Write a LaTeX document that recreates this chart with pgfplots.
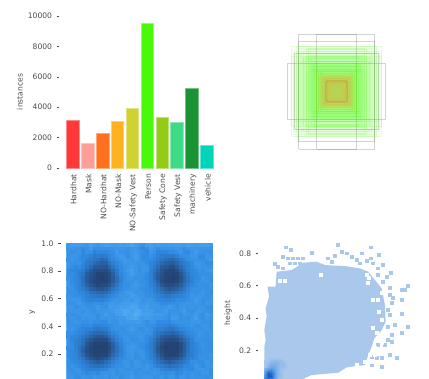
\documentclass[border=0pt]{standalone}
\usepackage{pgfplots}
\pgfplotsset{compat=1.18}
\usepackage{fontspec}
\setmainfont{DejaVu Sans}
\definecolor{c0}{HTML}{FF3838}\definecolor{c1}{HTML}{FF9D97}\definecolor{c2}{HTML}{FF701F}
\definecolor{c3}{HTML}{FFB21D}\definecolor{c4}{HTML}{CFD231}\definecolor{c5}{HTML}{48F90A}
\definecolor{c6}{HTML}{92CC17}\definecolor{c7}{HTML}{3DDB86}\definecolor{c8}{HTML}{1A9334}
\definecolor{c9}{HTML}{00D4BB}\definecolor{body}{HTML}{A9C8EC}\definecolor{txt}{gray}{0.3}
\newcommand\rr[3]{\addplot[draw=#1,line width=1.5pt,draw opacity=0.15,fill=#1,fill opacity=0.02,forget plot] coordinates {(-#2,-#3)(#2,-#3)(#2,#3)(-#2,#3)(-#2,-#3)};}
\newcommand\gr[2]{\addplot[draw=gray,line width=0.6pt,draw opacity=0.35,forget plot] coordinates {(-#1,-#2)(#1,-#2)(#1,#2)(-#1,#2)(-#1,-#2)};}
\newcommand\bb[3]{\addplot[ybar,bar width=0.85,bar shift=0pt,fill=#1,draw=#1!60!white,line width=0.4pt,forget plot] coordinates {(#2,#3)};}
\pgfplotsset{panel/.style={scale only axis,clip=false,enlargelimits=false,
  axis lines=left,axis line style={draw=none,-},
  /pgf/number format/assume math mode=true,
  tick align=outside,major tick length=2.6pt,
  ytick style={draw=txt,line width=0.5pt,xshift=-6pt},
  xtick style={draw=none},
  yticklabel style={font=\fontsize{7.6}{9}\selectfont,text=txt,xshift=-7pt},
  ylabel style={font=\fontsize{7.6}{9}\selectfont,text=txt},
  xtick=\empty}}
\begin{document}
\begin{tikzpicture}[x=1pt,y=1pt]
\path[use as bounding box] (0,0) rectangle (429,379);
\clip (0,0) rectangle (429,379);
\begin{axis}[panel,at={(65.2pt,211pt)},anchor=south west,width=149pt,height=152pt,
  xmin=-0.5,xmax=9.5,ymin=0,ymax=10000,ytick={0,2000,4000,6000,8000,10000},
  scaled y ticks=false,yticklabel style={/pgf/number format/1000 sep={}},
  ylabel={instances},ylabel style={at={(axis description cs:0,0.5)},anchor=south,yshift=39pt},
  xtick={0,...,9},xticklabels={Hardhat,Mask,NO-Hardhat,NO-Mask,NO-Safety Vest,Person,Safety Cone,Safety Vest,machinery,vehicle},
  xticklabel style={rotate=90,anchor=east,font=\fontsize{7.6}{9}\selectfont,text=txt,yshift=-1pt}]
\bb{c0}{0}{3130}\bb{c1}{1}{1650}\bb{c2}{2}{2300}\bb{c3}{3}{3080}\bb{c4}{4}{3950}
\bb{c5}{5}{9550}\bb{c6}{6}{3350}\bb{c7}{7}{3030}\bb{c8}{8}{5230}\bb{c9}{9}{1530}
\end{axis}
\begin{axis}[scale only axis,hide axis,clip=false,at={(276.7pt,227.3pt)},anchor=south west,width=120pt,height=120pt,
  xmin=-60,xmax=60,ymin=-60,ymax=60]
\gr{38}{57.5}\gr{20}{57.5}\gr{49}{28}\gr{38}{50}\gr{42}{38}
\rr{c5}{45}{45}\rr{c5}{43}{40}\rr{c5}{40}{45}\rr{c5}{38}{43}\rr{c5}{35}{42}\rr{c5}{45}{35}
\rr{c5}{42}{30}\rr{c5}{40}{38}\rr{c5}{36}{38}\rr{c5}{33}{40}\rr{c5}{30}{42}\rr{c5}{28}{43}
\rr{c5}{38}{28}\rr{c5}{33}{33}\rr{c5}{30}{35}\rr{c5}{28}{36}\rr{c5}{26}{33}\rr{c5}{25}{35}
\rr{c5}{22}{34}\rr{c5}{24}{30}\rr{c5}{30}{25}\rr{c5}{27}{27}\rr{c5}{25}{25}\rr{c5}{23}{28}
\rr{c5}{22}{25}\rr{c5}{20}{30}\rr{c5}{19}{26}\rr{c5}{26}{20}\rr{c5}{23}{22}\rr{c5}{21}{21}
\rr{c5}{20}{20}\rr{c5}{18}{23}\rr{c5}{18}{18}\rr{c5}{16}{20}\rr{c5}{15}{22}\rr{c5}{17}{16}
\rr{c5}{32}{30}\rr{c5}{24}{26}\rr{c5}{20}{24}\rr{c5}{34}{34}\rr{c5}{28}{22}
\rr{c4}{20}{18}\rr{c4}{18}{20}\rr{c4}{17}{17}\rr{c4}{16}{18}\rr{c3}{15}{15}\rr{c3}{14}{16}\rr{c3}{16}{14}
\rr{c3}{15}{13}\rr{c3}{13}{15}\rr{c2}{14}{14}\rr{c2}{13}{12}\rr{c2}{12}{13}\rr{c2}{11}{11}\rr{c0}{11}{10}\rr{c2}{10}{11}
\rr{c2}{11}{9}\rr{c2}{9}{11}\rr{c2}{10}{10}\rr{c3}{8}{8}\rr{c3}{7}{8}\rr{c3}{8}{7}\rr{c3}{6}{6}
\end{axis}
\begin{axis}[panel,at={(66.7pt,-2.7pt)},anchor=south west,width=146pt,height=138.4pt,
  xmin=0,xmax=1,ymin=0,ymax=1,ytick={0.2,0.4,0.6,0.8,1.0},
  yticklabel style={/pgf/number format/fixed,/pgf/number format/fixed zerofill,/pgf/number format/precision=1},
  ylabel={y},ylabel style={at={(axis description cs:0,0.5)},anchor=south,yshift=28pt},
  colormap={hm}{rgb255(0)=(95,180,246); rgb255(3)=(48,140,228); rgb255(6)=(42,105,175); rgb255(9)=(35,65,112)},
  point meta min=0,point meta max=9]
\addplot[surf,shader=flat,mesh/cols=40,point meta=explicit,forget plot] table[row sep=\\,
  x expr={mod(\coordindex,40)/39},y expr={1-0.0265*floor(\coordindex/40)},meta=v] {v\\
1\\2\\1\\2\\0\\2\\1\\2\\2\\1\\2\\0\\1\\2\\1\\2\\1\\1\\0\\2\\1\\2\\1\\2\\1\\2\\2\\1\\1\\2\\0\\1\\2\\1\\2\\1\\1\\2\\1\\2\\
2\\3\\1\\3\\2\\4\\2\\1\\3\\3\\1\\3\\2\\3\\2\\1\\3\\1\\3\\2\\4\\3\\1\\2\\3\\1\\3\\2\\3\\2\\3\\3\\2\\1\\3\\2\\3\\1\\3\\2\\
3\\1\\4\\2\\3\\3\\1\\4\\3\\2\\4\\2\\3\\1\\3\\3\\2\\4\\1\\3\\2\\4\\3\\1\\3\\4\\2\\3\\2\\3\\1\\3\\4\\2\\3\\1\\3\\2\\3\\1\\
2\\3\\3\\1\\3\\4\\2\\4\\5\\3\\4\\3\\4\\3\\1\\3\\2\\3\\1\\3\\2\\3\\3\\2\\4\\3\\5\\4\\3\\4\\3\\2\\3\\4\\1\\3\\3\\2\\3\\3\\
3\\2\\1\\4\\3\\3\\4\\5\\4\\5\\6\\4\\3\\2\\3\\1\\3\\3\\2\\1\\3\\4\\2\\3\\3\\5\\4\\5\\6\\5\\4\\3\\3\\1\\3\\2\\4\\3\\1\\2\\
2\\3\\3\\2\\3\\4\\5\\4\\6\\6\\7\\5\\4\\4\\2\\3\\1\\2\\3\\2\\3\\2\\4\\3\\5\\4\\6\\7\\6\\7\\5\\5\\3\\4\\2\\3\\2\\3\\3\\2\\
3\\1\\3\\3\\2\\5\\4\\6\\7\\6\\8\\6\\5\\3\\4\\2\\3\\3\\1\\3\\2\\3\\3\\4\\4\\6\\7\\6\\8\\7\\6\\4\\5\\3\\3\\1\\3\\2\\4\\3\\
2\\3\\4\\3\\4\\4\\6\\7\\8\\7\\8\\8\\6\\5\\3\\3\\2\\1\\3\\2\\3\\1\\3\\5\\5\\7\\8\\8\\9\\8\\7\\6\\4\\4\\3\\3\\2\\3\\1\\2\\
3\\4\\2\\5\\3\\6\\7\\8\\8\\9\\8\\9\\7\\6\\4\\2\\3\\2\\1\\3\\3\\2\\4\\4\\6\\7\\8\\9\\8\\9\\8\\6\\5\\3\\4\\2\\3\\3\\2\\3\\
2\\3\\3\\4\\5\\6\\8\\7\\9\\9\\9\\8\\8\\6\\4\\3\\3\\1\\3\\2\\2\\3\\3\\5\\7\\7\\9\\8\\9\\9\\8\\7\\6\\4\\3\\4\\2\\3\\3\\2\\
3\\2\\4\\3\\4\\7\\7\\9\\8\\9\\9\\9\\7\\7\\5\\3\\2\\3\\2\\3\\3\\3\\4\\4\\6\\8\\8\\9\\9\\9\\9\\7\\5\\5\\3\\3\\3\\1\\3\\3\\
1\\3\\3\\4\\4\\6\\8\\8\\9\\8\\9\\8\\8\\6\\4\\3\\3\\2\\3\\1\\3\\2\\3\\5\\5\\7\\9\\8\\9\\8\\8\\6\\6\\4\\4\\2\\3\\3\\2\\3\\
3\\2\\3\\3\\5\\5\\7\\7\\8\\9\\7\\8\\6\\5\\4\\2\\3\\3\\1\\3\\2\\3\\4\\3\\5\\6\\7\\8\\8\\7\\7\\6\\4\\3\\3\\3\\2\\3\\3\\1\\
2\\3\\2\\4\\3\\4\\5\\7\\6\\7\\7\\6\\5\\4\\3\\3\\2\\2\\3\\2\\3\\3\\2\\4\\4\\5\\6\\7\\6\\7\\5\\5\\4\\3\\2\\3\\3\\2\\3\\3\\
3\\3\\3\\2\\4\\3\\5\\4\\5\\6\\5\\5\\4\\3\\3\\1\\3\\1\\2\\3\\1\\3\\3\\3\\4\\4\\6\\5\\6\\4\\5\\3\\4\\2\\3\\3\\1\\3\\2\\3\\
2\\1\\3\\3\\2\\4\\3\\5\\4\\4\\5\\3\\3\\3\\2\\3\\2\\3\\1\\2\\3\\2\\3\\2\\3\\4\\3\\5\\3\\4\\3\\4\\3\\3\\1\\3\\2\\3\\3\\2\\
3\\3\\2\\1\\3\\3\\4\\3\\3\\4\\2\\3\\3\\1\\3\\2\\1\\2\\3\\1\\2\\3\\1\\3\\3\\3\\4\\3\\4\\3\\2\\3\\2\\3\\3\\1\\3\\3\\1\\3\\
2\\3\\3\\3\\1\\3\\2\\3\\1\\3\\3\\2\\1\\3\\2\\1\\3\\1\\0\\2\\3\\1\\3\\2\\1\\3\\2\\3\\1\\3\\3\\2\\3\\1\\3\\2\\3\\2\\3\\2\\
3\\1\\2\\3\\3\\2\\3\\3\\3\\1\\3\\3\\2\\2\\1\\2\\1\\1\\2\\1\\2\\2\\1\\3\\3\\2\\3\\1\\3\\2\\3\\1\\3\\3\\2\\3\\1\\3\\3\\3\\
3\\3\\3\\1\\2\\3\\1\\3\\2\\3\\2\\1\\3\\1\\2\\1\\0\\2\\1\\0\\1\\2\\2\\1\\2\\3\\1\\3\\3\\2\\3\\2\\1\\3\\3\\1\\3\\2\\2\\3\\
2\\2\\3\\3\\3\\1\\3\\2\\3\\3\\1\\3\\2\\3\\1\\2\\1\\2\\0\\1\\2\\1\\1\\3\\2\\1\\3\\2\\3\\1\\3\\3\\2\\3\\1\\3\\3\\3\\1\\3\\
3\\3\\1\\3\\2\\3\\3\\1\\3\\2\\3\\3\\1\\3\\2\\3\\2\\1\\2\\1\\3\\2\\3\\1\\3\\3\\2\\3\\3\\1\\3\\2\\3\\3\\2\\1\\3\\2\\3\\3\\
2\\3\\3\\2\\3\\3\\2\\4\\3\\3\\4\\2\\3\\3\\2\\1\\3\\2\\3\\2\\1\\3\\3\\2\\3\\3\\4\\3\\4\\3\\3\\2\\3\\1\\3\\3\\2\\3\\2\\3\\
3\\1\\3\\3\\3\\4\\3\\3\\5\\4\\3\\4\\3\\2\\3\\3\\2\\3\\1\\3\\3\\2\\3\\3\\3\\4\\3\\5\\4\\4\\3\\3\\3\\3\\2\\3\\3\\1\\3\\3\\
3\\3\\2\\3\\4\\3\\5\\4\\6\\5\\6\\4\\3\\3\\2\\3\\3\\1\\3\\2\\3\\3\\1\\4\\4\\5\\4\\6\\5\\6\\4\\4\\3\\3\\3\\2\\3\\3\\2\\3\\
2\\3\\3\\4\\3\\5\\5\\7\\6\\7\\6\\6\\4\\4\\3\\2\\3\\3\\2\\3\\1\\3\\3\\3\\5\\5\\7\\6\\7\\7\\6\\5\\4\\3\\3\\3\\1\\3\\3\\2\\
3\\3\\4\\3\\5\\6\\6\\7\\8\\8\\8\\7\\5\\4\\3\\3\\1\\3\\3\\2\\3\\2\\4\\4\\5\\7\\7\\8\\8\\8\\7\\6\\5\\4\\3\\2\\3\\3\\2\\3\\
2\\3\\3\\5\\4\\6\\8\\8\\9\\8\\9\\8\\7\\5\\4\\3\\3\\2\\3\\3\\2\\3\\3\\5\\6\\7\\8\\9\\8\\9\\8\\7\\6\\5\\3\\3\\2\\3\\3\\3\\
3\\2\\4\\4\\5\\7\\8\\9\\9\\9\\9\\9\\8\\6\\4\\3\\2\\3\\1\\3\\3\\3\\4\\5\\6\\8\\9\\9\\9\\9\\9\\8\\6\\4\\4\\3\\3\\2\\3\\2\\
3\\3\\3\\5\\6\\7\\9\\8\\9\\9\\9\\8\\8\\6\\5\\3\\3\\1\\3\\2\\3\\3\\4\\4\\7\\8\\9\\9\\8\\9\\9\\7\\6\\5\\3\\4\\2\\3\\3\\3\\
2\\4\\3\\4\\5\\8\\8\\9\\9\\8\\9\\9\\7\\6\\4\\4\\2\\3\\2\\3\\1\\3\\3\\5\\6\\8\\8\\9\\9\\9\\8\\8\\6\\4\\4\\3\\3\\3\\2\\3\\
3\\3\\3\\4\\5\\6\\8\\8\\9\\9\\8\\8\\6\\5\\4\\3\\3\\1\\3\\3\\3\\2\\4\\4\\5\\7\\8\\9\\8\\9\\8\\7\\5\\5\\4\\3\\2\\3\\3\\1\\
2\\3\\4\\3\\4\\5\\7\\6\\8\\7\\7\\6\\5\\4\\3\\2\\3\\3\\2\\3\\2\\3\\3\\4\\5\\6\\7\\8\\7\\7\\6\\5\\5\\3\\3\\3\\3\\2\\3\\3\\
3\\2\\3\\3\\4\\4\\5\\6\\6\\7\\5\\5\\4\\3\\3\\3\\1\\3\\3\\1\\3\\3\\2\\3\\4\\5\\5\\6\\7\\5\\6\\4\\4\\3\\2\\3\\3\\3\\1\\3\\
3\\3\\2\\3\\3\\4\\4\\5\\4\\5\\4\\4\\3\\3\\2\\3\\3\\2\\3\\2\\3\\1\\3\\3\\3\\4\\4\\5\\4\\5\\4\\3\\3\\4\\3\\1\\3\\3\\3\\2\\
2\\3\\3\\1\\3\\3\\4\\3\\4\\3\\3\\3\\1\\3\\3\\1\\3\\3\\2\\3\\3\\3\\2\\3\\1\\3\\3\\4\\3\\3\\4\\3\\2\\3\\3\\3\\2\\1\\3\\3\\
3\\1\\3\\3\\2\\3\\3\\2\\3\\3\\1\\3\\3\\2\\3\\3\\2\\1\\3\\3\\1\\3\\3\\2\\3\\3\\2\\3\\1\\3\\3\\2\\3\\3\\1\\3\\3\\3\\2\\3\\
2\\3\\2\\3\\3\\1\\3\\3\\1\\3\\3\\2\\3\\1\\3\\2\\3\\3\\1\\3\\3\\2\\1\\3\\3\\1\\3\\3\\2\\3\\3\\1\\3\\2\\3\\3\\1\\3\\3\\2\\
};
\end{axis}
\begin{axis}[panel,at={(264.3pt,-3.7pt)},anchor=south west,width=146pt,height=139.3pt,
  xmin=0,xmax=0.903,ymin=0,ymax=0.862,ytick={0.2,0.4,0.6,0.8},
  yticklabel style={/pgf/number format/fixed,/pgf/number format/fixed zerofill,/pgf/number format/precision=1},
  ylabel={height},ylabel style={at={(axis description cs:0,0.5)},anchor=south,yshift=29pt},
  colormap={bl}{rgb255(0)=(169,200,236); rgb255(4)=(90,160,232); rgb255(9)=(25,95,200)},
  point meta min=0,point meta max=9]
\addplot[fill=body,draw=none,forget plot] table[x expr={(\thisrowno{0}-118)/485},y expr={(458-\thisrowno{1})/485}] {
118 458
118 350
122 330
118 300
125 260
122 235
132 200
128 170
152 170
155 125
200 120
235 98
275 95
300 105
360 108
405 115
430 125
450 150
470 175
480 225
482 275
470 300
448 325
440 350
430 375
420 405
365 412
340 428
260 435
210 458
};
\addplot[only marks,mark=square*,mark size=1.4pt,mark options={fill=body,draw=body,line width=0pt},forget plot] table[x expr={(\thisrowno{0}-118)/485},y expr={(458-\thisrowno{1})/485}] {
183 52
198 60
340 45
437 52
262 68
175 80
190 85
205 85
220 85
235 85
150 102
160 110
175 115
195 100
210 100
225 100
330 78
310 85
320 95
350 65
365 70
380 80
395 90
410 70
405 100
438 85
462 75
425 92
445 100
475 105
460 115
497 128
485 140
475 155
458 135
550 167
540 180
530 180
505 205
495 175
495 195
495 255
510 285
532 210
532 252
500 220
490 240
550 292
532 310
500 315
490 290
490 330
500 335
460 345
480 345
440 380
455 385
470 385
495 375
515 385
440 405
470 410
};
\addplot[only marks,mark=square*,mark size=1.4pt,mark options={fill=white,draw=white,line width=0pt},forget plot] table[x expr={(\thisrowno{0}-118)/485},y expr={(458-\thisrowno{1})/485}] {
288 135
165 152
180 152
430 160
432 145
425 135
445 210
460 210
463 245
472 190
470 270
445 293
455 310
465 325
470 340
450 355
435 375
450 375
420 395
440 395
395 405
};
\addplot[surf,shader=interp,mesh/cols=8,point meta=explicit,forget plot] table[row sep=\\,
  x expr={mod(\coordindex,8)*0.02},y expr={floor(\coordindex/8)*0.02},meta=v] {v\\
3\\5\\4\\2\\1\\0\\0\\0\\
5\\8\\7\\4\\2\\0\\0\\0\\
5\\9\\9\\5\\2\\1\\0\\0\\
4\\9\\8\\5\\2\\1\\0\\0\\
2\\5\\6\\4\\2\\1\\0\\0\\
1\\2\\3\\3\\2\\1\\1\\0\\
0\\1\\2\\2\\2\\1\\1\\0\\
0\\0\\1\\1\\1\\1\\0\\0\\
0\\0\\0\\0\\0\\0\\0\\0\\
};
\end{axis}
\end{tikzpicture}
\end{document}
